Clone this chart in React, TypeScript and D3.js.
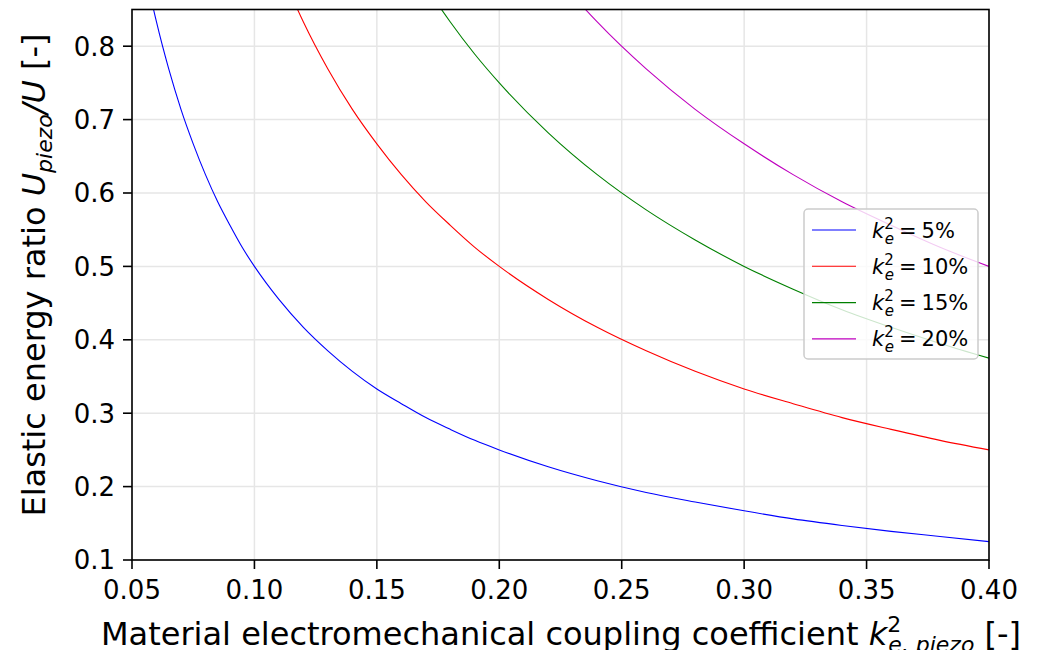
import React from "react";
import * as d3 from "d3";

const xValues = [0.05, 0.055, 0.06, 0.065, 0.07, 0.075, 0.08, 0.085, 0.09, 0.095, 0.10, 0.11, 0.12, 0.13, 0.14, 0.15, 0.16, 0.17, 0.18, 0.19, 0.20, 0.22, 0.24, 0.26, 0.28, 0.30, 0.32, 0.34, 0.36, 0.38, 0.40];
const series5 = [1.000, 0.909, 0.833, 0.769, 0.714, 0.667, 0.625, 0.588, 0.556, 0.526, 0.500, 0.455, 0.417, 0.385, 0.357, 0.333, 0.313, 0.294, 0.278, 0.263, 0.250, 0.227, 0.208, 0.192, 0.179, 0.167, 0.156, 0.147, 0.139, 0.132, 0.125];
const series10 = [2.000, 1.818, 1.667, 1.538, 1.429, 1.333, 1.250, 1.176, 1.111, 1.053, 1.000, 0.909, 0.833, 0.769, 0.714, 0.667, 0.625, 0.588, 0.556, 0.526, 0.500, 0.455, 0.417, 0.385, 0.357, 0.333, 0.313, 0.294, 0.278, 0.263, 0.250];
const series15 = [3.000, 2.727, 2.500, 2.308, 2.143, 2.000, 1.875, 1.765, 1.667, 1.579, 1.500, 1.364, 1.250, 1.154, 1.071, 1.000, 0.938, 0.882, 0.833, 0.789, 0.750, 0.682, 0.625, 0.577, 0.536, 0.500, 0.469, 0.441, 0.417, 0.395, 0.375];
const series20 = [4.000, 3.636, 3.333, 3.077, 2.857, 2.667, 2.500, 2.353, 2.222, 2.105, 2.000, 1.818, 1.667, 1.538, 1.429, 1.333, 1.250, 1.176, 1.111, 1.053, 1.000, 0.909, 0.833, 0.769, 0.714, 0.667, 0.625, 0.588, 0.556, 0.526, 0.500];
const seriesLabels = ["5%", "10%", "15%", "20%"];
const seriesColors = ["#0000ff", "#ff0000", "#008000", "#bf00bf"];
const xTicks = [0.05, 0.10, 0.15, 0.20, 0.25, 0.30, 0.35, 0.40];
const yTicks = [0.1, 0.2, 0.3, 0.4, 0.5, 0.6, 0.7, 0.8];

const W = 1040, H = 658;
const left = 132, right = 989, top = 9.5, bottom = 560;
const FONT = "'DejaVu Sans', sans-serif";

export default function App() {
  const x = d3.scaleLinear().domain([0.05, 0.40]).range([left, right]);
  const y = d3.scaleLinear().domain([0.1, 0.85]).range([bottom, top]);
  const allSeries = [series5, series10, series15, series20];
  const line = d3
    .line<number>()
    .x((_, i) => x(xValues[i]))
    .y((d) => y(d))
    .curve(d3.curveMonotoneX);

  const legX = 804, legY = 209, legW = 174, legH = 150;
  const rowH = 36.3;

  return (
    <div style={{ margin: -8 }}>
      <svg width={W} height={H} style={{ display: "block", background: "#fff", fontFamily: FONT }}>
        <defs>
          <clipPath id="plotclip">
            <rect x={left} y={top} width={right - left} height={bottom - top} />
          </clipPath>
        </defs>
        {/* grid */}
        {xTicks.map((t) => (
          <line key={"gx" + t} x1={x(t)} x2={x(t)} y1={top} y2={bottom} stroke="#e6e6e6" strokeWidth={1.5} />
        ))}
        {yTicks.map((t) => (
          <line key={"gy" + t} x1={left} x2={right} y1={y(t)} y2={y(t)} stroke="#e6e6e6" strokeWidth={1.5} />
        ))}
        {/* curves */}
        <g clipPath="url(#plotclip)">
          {allSeries.map((s, i) => (
            <path key={i} d={line(s) || ""} fill="none" stroke={seriesColors[i]} strokeWidth={1.1} />
          ))}
        </g>
        {/* spines */}
        <rect x={left} y={top} width={right - left} height={bottom - top} fill="none" stroke="#000" strokeWidth={1.6} />
        {/* x ticks */}
        {xTicks.map((t) => (
          <g key={"xt" + t}>
            <line x1={x(t)} x2={x(t)} y1={bottom} y2={bottom + 9} stroke="#000" strokeWidth={1.6} />
            <text x={x(t)} y={bottom + 38.5} textAnchor="middle" fontSize={26} fill="#000">
              {t.toFixed(2)}
            </text>
          </g>
        ))}
        {/* y ticks */}
        {yTicks.map((t) => (
          <g key={"yt" + t}>
            <line x1={left - 9} x2={left} y1={y(t)} y2={y(t)} stroke="#000" strokeWidth={1.6} />
            <text x={left - 17} y={y(t)} dy="0.36em" textAnchor="end" fontSize={26} fill="#000">
              {t.toFixed(1)}
            </text>
          </g>
        ))}
        {/* x label */}
        <text x={101} y={645} fontSize={32} fill="#000">
          Material electromechanical coupling coefficient{" "}
          <tspan fontStyle="italic">k</tspan>
          <tspan fontSize={22} dy={-13}>2</tspan>
          <tspan fontSize={22} fontStyle="italic" dx={-13} dy={20}>e, piezo</tspan>
          <tspan dy={-7}>{" "}[-]</tspan>
        </text>
        {/* y label */}
        <text transform={`translate(45, 275) rotate(-90)`} textAnchor="middle" fontSize={32} fill="#000">
          Elastic energy ratio{" "}
          <tspan fontStyle="italic">U</tspan>
          <tspan fontSize={22} fontStyle="italic" dy={7}>piezo</tspan>
          <tspan fontStyle="italic" dy={-7}>/U</tspan>
          <tspan>{" "}[-]</tspan>
        </text>
        {/* legend */}
        <rect x={legX} y={legY} width={legW} height={legH} rx={4} fill="#fff" fillOpacity={0.8} stroke="#cccccc" strokeWidth={1.5} />
        {seriesLabels.map((lab, i) => {
          const cy = legY + 21 + i * rowH;
          return (
            <g key={lab}>
              <line x1={812} x2={856} y1={cy} y2={cy} stroke={seriesColors[i]} strokeWidth={1.1} />
              <text x={872} y={cy} dy="0.36em" fontSize={21} fill="#000">
                <tspan fontStyle="italic">k</tspan>
                <tspan fontSize={15} dy={-9}>2</tspan>
                <tspan fontSize={15} fontStyle="italic" dx={-9} dy={15}>e</tspan>
                <tspan dy={-6} dx={5}>=</tspan>
                <tspan dx={5}>{lab}</tspan>
              </text>
            </g>
          );
        })}
      </svg>
    </div>
  );
}
